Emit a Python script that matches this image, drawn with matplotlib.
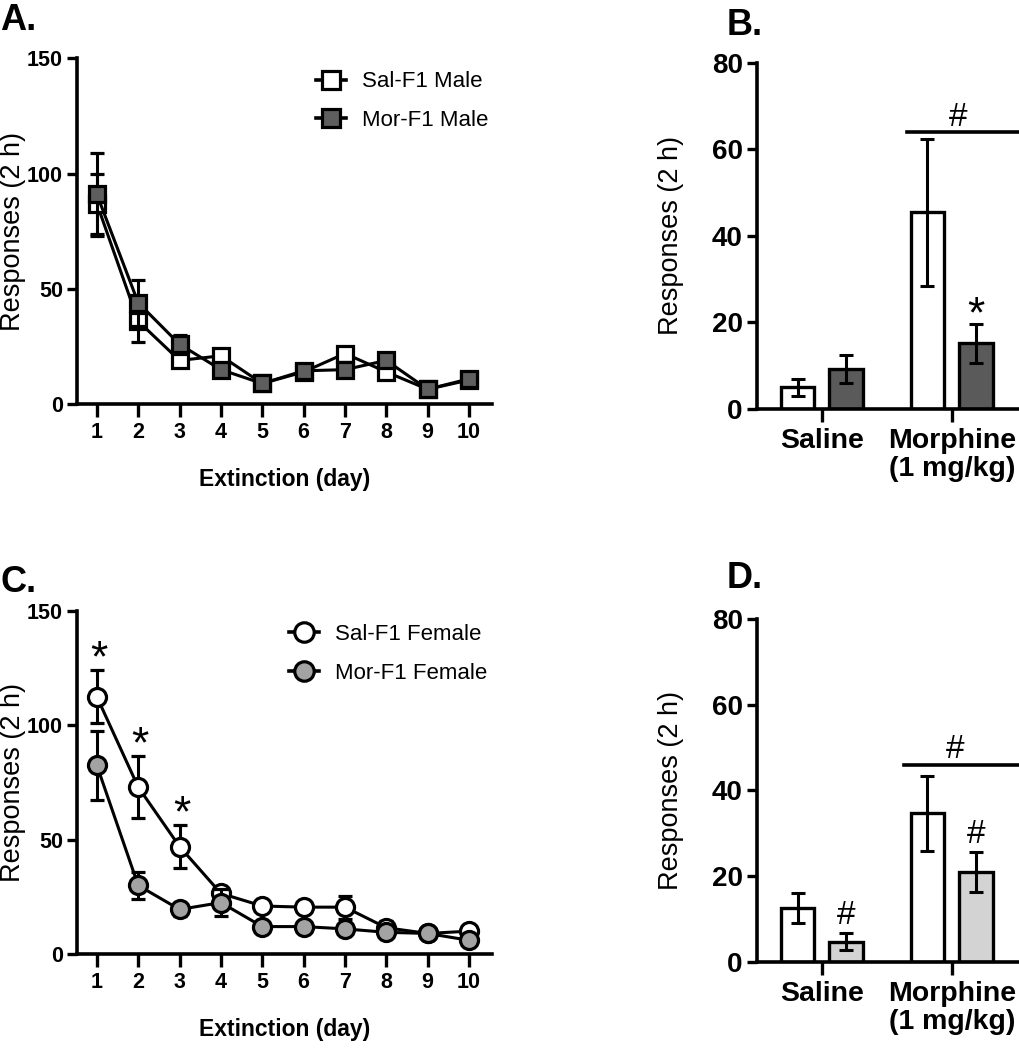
import numpy as np
import matplotlib
matplotlib.use("Agg")
import matplotlib.pyplot as plt
from matplotlib.lines import Line2D

plt.rcParams["font.family"] = ["Liberation Sans", "DejaVu Sans"]

# ---- data ----
days = np.arange(1, 11)

sal_male = [87, 36, 19, 21, 9, 14, 22, 14, 6.5, 10.5]
sal_male_err = [13, 9, 3, 2, 1.5, 1.5, 2, 2, 1, 1.5]
mor_male = [91, 44, 26, 15, 9, 14.5, 15, 19, 6.5, 11]
mor_male_err = [18, 10, 4, 2, 2, 2, 2, 2, 1.5, 2]

sal_female = [112.5, 73, 47, 26.5, 21, 20.5, 20.5, 11.5, 9, 10]
sal_female_err = [11.5, 13.5, 9.5, 3, 1.5, 1.5, 5, 3, 1.5, 1]
mor_female = [82.5, 30, 19.5, 22.5, 12, 12, 11, 9.5, 9, 6]
mor_female_err = [15, 6, 3, 6, 2, 1.5, 1.5, 1.5, 1, 1.5]
female_stars = [0, 1, 2]   # days (index) with * above Sal-F1

groups = ["Saline", "Morphine\n(1 mg/kg)"]
b_sal = [5, 45.5]
b_sal_err = [2, 17]
b_mor = [9.2, 15.2]
b_mor_err = [3.3, 4.5]

d_sal = [12.5, 34.7]
d_sal_err = [3.5, 8.7]
d_mor = [4.7, 21]
d_mor_err = [2, 4.7]

LW = 2.2


def style_axes(ax):
    for s in ["top", "right"]:
        ax.spines[s].set_visible(False)
    for s in ["left", "bottom"]:
        ax.spines[s].set_linewidth(2.6)
    ax.tick_params(width=2.4, length=7.2, pad=3)


def line_panel(ax, y1, e1, y2, e2, marker, c2, labels, leg_x):
    ms = 12 if marker == "s" else 13
    kw = dict(marker=marker, markersize=ms, markeredgewidth=2.3, markeredgecolor="k",
              color="k", linewidth=LW, elinewidth=2.2, capsize=5, capthick=2.2)
    ax.errorbar(days, y1, yerr=e1, markerfacecolor="white", zorder=3, **kw)
    ax.errorbar(days, y2, yerr=e2, markerfacecolor=c2, zorder=4, **kw)
    ax.set_xlim(0.52, 10.56)
    ax.set_ylim(0, 150)
    ax.set_xticks(days)
    ax.set_yticks([0, 50, 100, 150])
    style_axes(ax)
    ax.tick_params(axis="x", length=9, pad=4)
    for lab in ax.get_xticklabels() + ax.get_yticklabels():
        lab.set_fontweight("bold")
        lab.set_fontsize(15.5)
    ax.set_xlabel("Extinction (day)", fontweight="bold", fontsize=16.5, labelpad=18)
    ax.set_ylabel("Responses (2 h)", fontsize=19.5)
    ax.yaxis.set_label_coords(-0.124, 0.5)
    handles = [Line2D([], [], marker=marker, markersize=ms + 1, markeredgewidth=2.3, markeredgecolor="k",
                      markerfacecolor=fc, color="k", linewidth=2.6)
               for fc in ["white", c2]]
    ax.legend(handles, labels, loc="upper left", bbox_to_anchor=(leg_x, 0.962), frameon=False,
              fontsize=16, handlelength=1.35, handletextpad=0.75, labelspacing=0.8,
              borderpad=0, borderaxespad=0)


def bar_panel(ax, ys, es, ym, em, c2):
    x = np.arange(len(groups))
    w = 0.26
    off = 0.187
    ekw = dict(elinewidth=2.2, capsize=5, capthick=2.2, ecolor="k")
    ax.bar(x - off, ys, w, yerr=es, color="white", edgecolor="k", linewidth=2.4, error_kw=ekw)
    ax.bar(x + off, ym, w, yerr=em, color=c2, edgecolor="k", linewidth=2.4, error_kw=ekw)
    ax.set_xlim(-0.5, 1.51)
    ax.set_ylim(0, 80)
    ax.set_xticks(x)
    ax.set_xticklabels(groups, fontweight="bold", fontsize=20.5, linespacing=1.1)
    ax.set_yticks([0, 20, 40, 60, 80])
    style_axes(ax)
    ax.tick_params(axis="x", length=9, pad=5)
    for lab in ax.get_yticklabels():
        lab.set_fontweight("bold")
        lab.set_fontsize(20)
    ax.set_ylabel("Responses (2 h)", fontsize=19.5)
    ax.yaxis.set_label_coords(-0.278, 0.5)
    return x, off, w


fig = plt.figure(figsize=(10.2, 10.5), dpi=100)

# A
axA = fig.add_axes([0.0755, 0.615, 0.407, 0.3295])
line_panel(axA, sal_male, sal_male_err, mor_male, mor_male_err, "s", "#5e5e5e",
           ["Sal-F1 Male", "Mor-F1 Male"], 0.575)

# B
axB = fig.add_axes([0.742, 0.6105, 0.256, 0.3295])
x, off, w = bar_panel(axB, b_sal, b_sal_err, b_mor, b_mor_err, "#5a5a5a")
axB.plot([x[1] - off - w / 2 - 0.025, x[1] + off + w / 2 + 0.35], [64, 64], color="k", lw=2.6, clip_on=False)
axB.text(x[1] + 0.05, 67.4, "#", ha="center", va="center", fontsize=24)
axB.text(x[1] + off, b_mor[1] + b_mor_err[1] + 1.8, "*", ha="center", va="center", fontsize=32)

# C
axC = fig.add_axes([0.0755, 0.0914, 0.407, 0.3267])
line_panel(axC, sal_female, sal_female_err, mor_female, mor_female_err, "o", "#a3a3a3",
           ["Sal-F1 Female", "Mor-F1 Female"], 0.51)
for i in female_stars:
    axC.text(days[i] + 0.05, sal_female[i] + sal_female_err[i] + 4.5, "*",
             ha="center", va="center", fontsize=32)

# D
axD = fig.add_axes([0.742, 0.0838, 0.256, 0.3267])
x, off, w = bar_panel(axD, d_sal, d_sal_err, d_mor, d_mor_err, "#d3d3d3")
axD.plot([x[1] - off - w / 2 - 0.05, x[1] + off + w / 2 + 0.35], [46, 46], color="k", lw=2.6, clip_on=False)
axD.text(x[1] + 0.03, 49.6, "#", ha="center", va="center", fontsize=24)
for i in range(2):
    axD.text(x[i] + off, d_mor[i] + d_mor_err[i] + 4.1, "#", ha="center", va="center", fontsize=24)

# panel letters
for lbl, (px, py) in {"A.": (0.0, 0.997), "B.": (0.712, 0.992),
                      "C.": (0.0, 0.462), "D.": (0.712, 0.466)}.items():
    fig.text(px, py, lbl, fontsize=26, fontweight="bold", ha="left", va="top")

fig.savefig("out.png", dpi=100)
